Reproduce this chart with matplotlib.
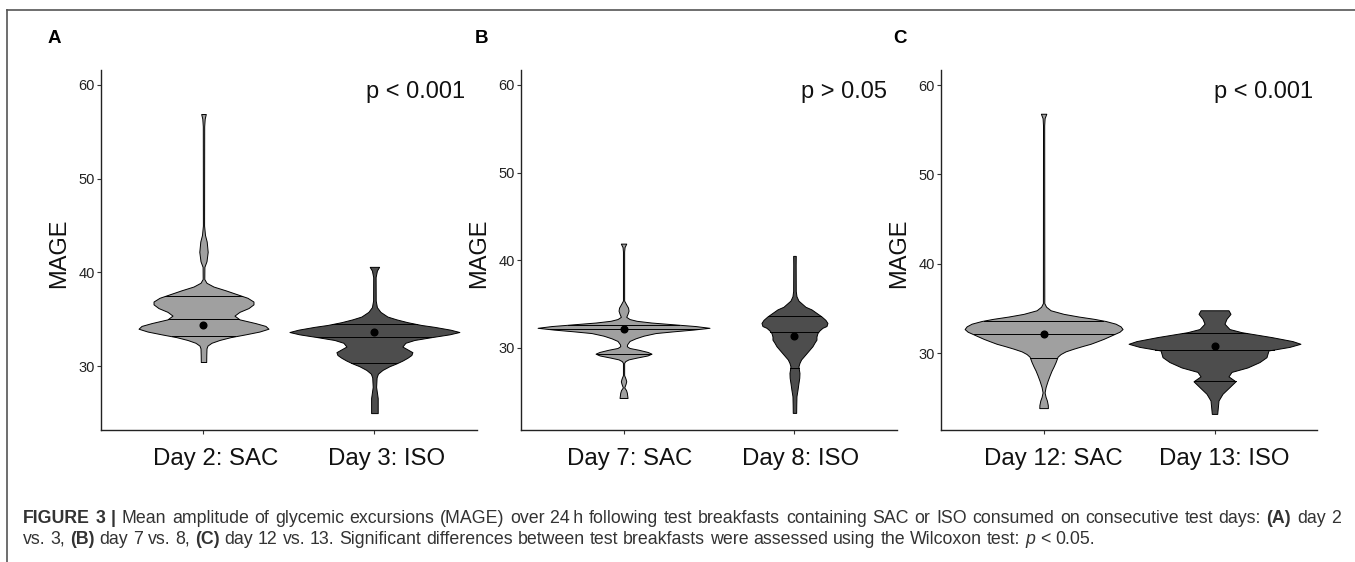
import numpy as np
import matplotlib
matplotlib.use("Agg")
import matplotlib.pyplot as plt
from matplotlib.lines import Line2D
from matplotlib.transforms import ScaledTranslation

plt.rcParams['font.family'] = ['Liberation Sans', 'DejaVu Sans']

# ---- data ---------------------------------------------------------------
# violin outlines: MAGE level (top -> bottom) and density (half width, px-ish)
a_sac_y = [56.9, 56.4, 55.6, 45.0, 44.0, 43.3, 42.2, 41.2, 40.6, 39.3, 38.9, 38.5, 38.1,
           37.7, 37.3, 36.9, 36.6, 36.2, 35.8, 35.4, 35.0, 34.6, 34.3, 34.0, 33.7, 33.4,
           33.1, 32.8, 32.5, 32.2, 31.9, 31.2, 30.45]
a_sac_d = [2.3, 1.2, 0.7, 0.6, 1.5, 3.2, 4.2, 3.0, 0.9, 0.8, 3, 10, 22,
           33, 44, 50, 50, 45, 36, 31, 36, 52, 62, 65, 56, 42,
           27, 16, 8, 4, 3, 2.8, 2.7]
a_iso_y = [40.6, 40.2, 39.5, 37.0, 36.3, 35.8, 35.3, 35.0, 34.7, 34.4, 34.2, 33.9, 33.65,
           33.4, 33.1, 32.8, 32.5, 32.1, 31.8, 31.5, 31.2, 30.9, 30.6, 30.3, 30.0, 29.6,
           29.2, 28.8, 27.8, 26.6, 25.0]
a_iso_d = [4.7, 2.5, 1.2, 1.3, 2.5, 6, 13, 22, 33, 47, 60, 76, 85,
           75, 57, 40, 31, 28, 33, 38, 37, 33, 28, 22, 15, 8,
           3.5, 2.2, 1.7, 3.3, 3.3]
b_sac_y = [41.9, 41.5, 41.0, 35.4, 35.0, 34.6, 34.25, 33.9, 33.55, 33.3, 33.1, 32.9, 32.7,
           32.5, 32.3, 32.1, 31.9, 31.7, 31.4, 31.1, 30.8, 30.4, 30.2, 30.0, 29.8, 29.55,
           29.35, 29.15, 28.9, 28.7, 28.5, 28.3, 26.9, 26.5, 26.2, 25.9, 25.5, 25.2, 24.9, 24.3]
b_sac_d = [2.7, 1.0, 0.6, 0.6, 2.5, 4.5, 5, 4, 2.7, 6, 13, 28, 50,
           72, 86, 70, 50, 32, 20, 12, 6, 3.5, 3.3, 6, 15, 24,
           28, 24, 13, 5, 1.7, 0.6, 0.6, 2, 2.7, 2, 0.7, 2.5, 3.3, 4]
b_iso_y = [40.5, 39.5, 36.5, 35.9, 35.4, 35.1, 34.7, 34.4, 34.0, 33.6, 33.2, 32.85, 32.5,
           32.3, 32.0, 31.7, 31.3, 30.95, 30.6, 30.2, 29.8, 29.4, 29.0, 28.7, 28.3, 27.9,
           27.5, 27.15, 26.6, 26.0, 25.2, 24.5, 23.5, 22.6]
b_iso_d = [1.3, 1.2, 1.3, 2, 4, 7, 11, 17, 22, 27, 31, 33, 32,
           28, 25, 23, 22, 22, 20, 18, 15, 12, 9, 6.7, 5, 4,
           4.5, 5, 4.8, 4, 3, 2, 1.8, 1.7]
c_sac_y = [56.8, 56.3, 55.5, 35.6, 35.2, 34.8, 34.4, 34.1, 33.85, 33.6, 33.3, 33.0, 32.7,
           32.4, 32.2, 31.9, 31.6, 31.3, 31.05, 30.8, 30.5, 30.2, 29.9, 29.6, 29.3, 29.0,
           28.5, 28.05, 27.5, 26.9, 26.2, 25.6, 25.1, 24.7, 24.2, 23.85]
c_sac_d = [2.7, 1.0, 0.6, 0.7, 2.5, 7, 20, 35, 50, 62, 72, 77, 79,
           76, 72, 66, 60, 53, 47, 39, 30, 22, 17, 14, 13, 12,
           10, 8, 6, 4, 2, 1, 2, 3.3, 4.2, 4.3]
c_iso_y = [34.8, 34.4, 33.85, 33.3, 32.7, 32.35, 31.8, 31.35, 31.05, 30.7, 30.3, 29.55,
           29.0, 28.4, 27.9, 27.4, 26.85, 26.2, 25.45, 24.7, 23.2]
c_iso_d = [14, 16, 12, 10, 15, 27, 57, 78, 86, 75, 54, 52,
           45, 33, 17, 14, 21, 15, 8, 4, 2.7]

# quartile lines and means
a_sac_q, a_iso_q = [37.5, 35.0, 33.2], [34.5, 33.1, 30.35]
b_sac_q, b_iso_q = [32.65, 32.15, 29.3], [33.65, 31.85, 27.7]
c_sac_q, c_iso_q = [33.65, 32.1, 29.5], [32.25, 30.4, 26.85]
a_means = [34.4, 33.6]
b_means = [32.2, 31.4]
c_means = [32.1, 30.8]

a_labels = ["Day 2: SAC", "Day 3: ISO"]
b_labels = ["Day 7: SAC", "Day 8: ISO"]
c_labels = ["Day 12: SAC", "Day 13: ISO"]
p_texts = ["p < 0.001", "p > 0.05", "p < 0.001"]
panel_tags = ["A", "B", "C"]

# --------------------------------------------------------------------------
PX_PER_UNIT = 171.0
COLS = ["#a0a0a0", "#4d4d4d"]


def draw_violin(ax, x, ys, dens, quart, mean, color):
    ys = np.asarray(ys, float)
    w = np.asarray(dens, float) / PX_PER_UNIT
    ax.fill_betweenx(ys, x - w, x + w, facecolor=color, edgecolor="black", lw=0.7, zorder=2)
    for q in quart:
        hw = np.interp(q, ys[::-1], w[::-1])
        ax.plot([x - hw, x + hw], [q, q], color="black", lw=0.7, zorder=3)
    ax.plot(x, mean, "o", color="black", ms=4.8, zorder=4)


fig = plt.figure(figsize=(13.55, 5.62), dpi=100)

panels = [
    (a_labels, [(a_sac_y, a_sac_d, a_sac_q), (a_iso_y, a_iso_d, a_iso_q)], a_means),
    (b_labels, [(b_sac_y, b_sac_d, b_sac_q), (b_iso_y, b_iso_d, b_iso_q)], b_means),
    (c_labels, [(c_sac_y, c_sac_d, c_sac_q), (c_iso_y, c_iso_d, c_iso_q)], c_means),
]
lefts = [0.0745, 0.3845, 0.6945]
ylims = [(23.2, 61.6), (20.65, 61.7), (21.4, 61.7)]
p_x = [0.968, 0.973, 0.989]
tag_x = [48, 475, 893]
lab_shift = [12.5, 6.5, 9.5]   # px, x tick labels sit a bit right of the ticks

for i, (labels, vios, means) in enumerate(panels):
    ax = fig.add_axes([lefts[i], 0.2349, 0.2775, 0.6406])
    for j, (ys, d, q) in enumerate(vios):
        draw_violin(ax, j + 1, ys, d, q, means[j], COLS[j])
    ax.set_xlim(0.4, 2.6)
    ax.set_ylim(*ylims[i])
    ax.set_xticks([1, 2])
    ax.set_xticklabels(labels)
    ax.set_yticks([30, 40, 50, 60])
    for s in ["top", "right"]:
        ax.spines[s].set_visible(False)
    for s in ["left", "bottom"]:
        ax.spines[s].set_color("#222222")
        ax.spines[s].set_linewidth(1.0)
    ax.tick_params(axis="both", length=3, width=0.8, color="#333333")
    ax.tick_params(axis="x", labelsize=17.3, pad=10, labelcolor="#111111")
    ax.tick_params(axis="y", labelsize=10.5, pad=1.5, labelcolor="#222222")
    off = ScaledTranslation(lab_shift[i] / 100, 0, fig.dpi_scale_trans)
    for lab in ax.get_xticklabels():
        lab.set_transform(lab.get_transform() + off)
    ax.set_ylabel("MAGE", fontsize=17, color="#111111")
    ax.yaxis.set_label_coords(-0.082, 0.49)
    ax.text(p_x[i], 0.922, p_texts[i], transform=ax.transAxes, ha="right",
            va="baseline", fontsize=17, color="#111111")
    fig.text(tag_x[i] / 1355, 0.932, panel_tags[i], fontsize=13.5,
             fontweight="bold", ha="left", va="center")

# outer frame (top and left rules)
fig.add_artist(Line2D([7 / 1355, 1.0], [1 - 10 / 562] * 2, color="#555555", lw=1.2))
fig.add_artist(Line2D([7 / 1355] * 2, [0.0, 1 - 10 / 562], color="#555555", lw=1.2))

# caption built from pieces with mixed weight / style
cap1 = [("FIGURE 3 |", "bold", "normal"),
        ("Mean amplitude of glycemic excursions (MAGE) over 24\u2009h following test "
         "breakfasts containing SAC or ISO consumed on consecutive test days:", "normal", "normal"),
        ("(A)", "bold", "normal"),
        ("day 2", "normal", "normal")]
cap2 = [("vs. 3,", "normal", "normal"),
        ("(B)", "bold", "normal"),
        ("day 7 vs. 8,", "normal", "normal"),
        ("(C)", "bold", "normal"),
        ("day 12 vs. 13. Significant differences between test breakfasts were assessed "
         "using the Wilcoxon test:", "normal", "normal"),
        ("p", "normal", "italic"),
        ("< 0.05.", "normal", "normal")]

renderer = fig.canvas.get_renderer()
W = fig.bbox.width
CAP_FS = 12.8
CAP_COL = "#333333"
sp_a = fig.text(0, 0, "a a", fontsize=CAP_FS)
sp_b = fig.text(0, 0, "aa", fontsize=CAP_FS)
space = (sp_a.get_window_extent(renderer).width - sp_b.get_window_extent(renderer).width)
sp_a.remove()
sp_b.remove()


def put_line(pieces, x0, y, x_end=None):
    # split into words so the line can be justified like the journal caption
    words = []
    for txt, wt, st in pieces:
        for wd in txt.split(" "):
            words.append((wd, wt, st))
    arts = [fig.text(0, y, wd, fontsize=CAP_FS, fontweight=wt, fontstyle=st,
                     color=CAP_COL, ha="left", va="baseline") for wd, wt, st in words]
    widths = [a.get_window_extent(renderer).width for a in arts]
    gap = space
    if x_end is not None:
        gap = (x_end - x0 - sum(widths)) / (len(arts) - 1)
    x = x0
    for a, w in zip(arts, widths):
        a.set_x(x / W)
        x += w + gap


put_line(cap1, 23, 1 - 523 / 562, x_end=1341)
put_line(cap2, 23, 1 - 544 / 562)

fig.savefig("out.png", dpi=100)
